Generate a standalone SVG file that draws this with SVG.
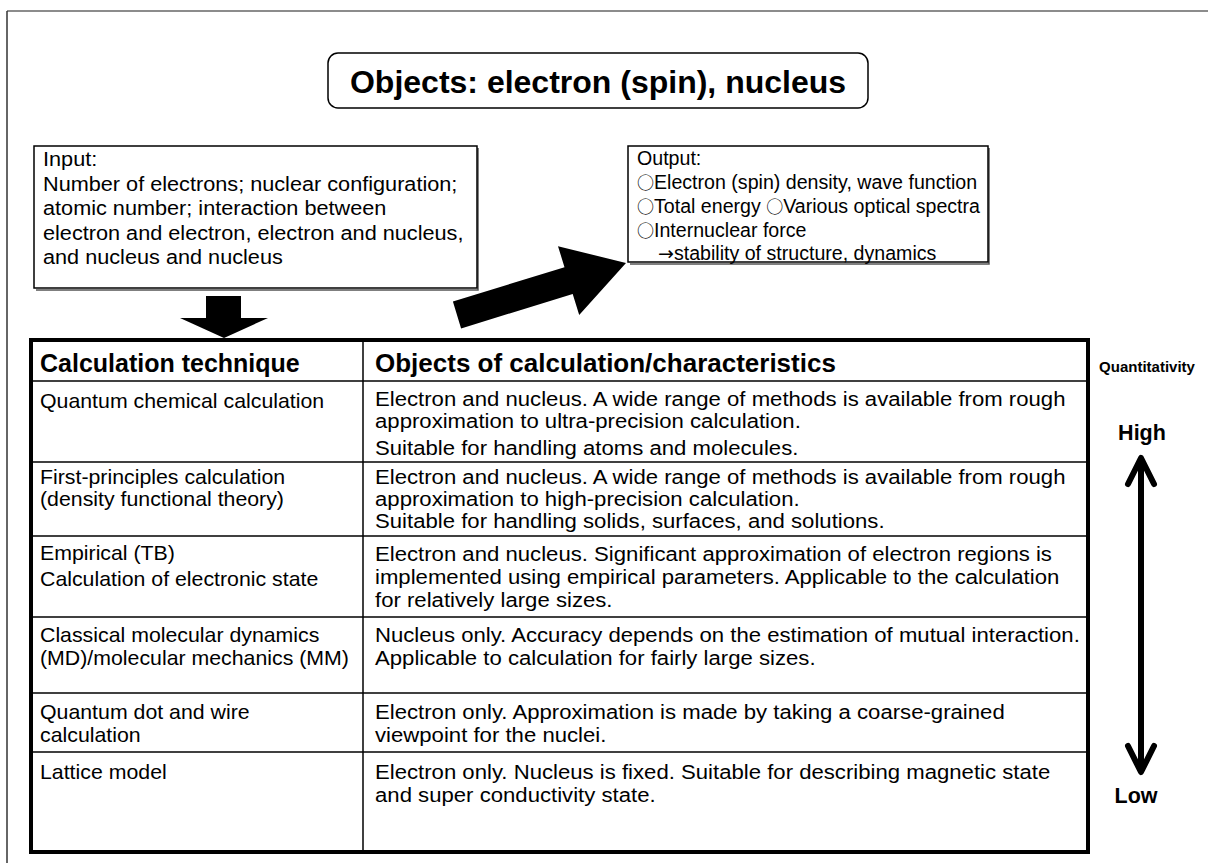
<svg xmlns="http://www.w3.org/2000/svg" width="1208" height="863" viewBox="0 0 1208 863">
  <style>
    text { font-family: "Liberation Sans", Arial, "DejaVu Sans", sans-serif; fill: #000; }
    .title { font-size: 32px; font-weight: bold; text-anchor: middle; }
    .in { font-size: 21px; }
    .out { font-size: 19.6px; }
    .c1 { font-size: 19.6px; }
    .c2 { font-size: 19.6px; }
    .head { font-size: 25px; font-weight: bold; }
    .side { font-weight: bold; text-anchor: middle; }
    .dot { font-family: "Noto Sans CJK JP", "DejaVu Sans", sans-serif; font-size: 17px; }
    .sym { font-family: "DejaVu Sans", sans-serif; font-size: 19px; }
    .box { fill: #fff; stroke: #000; stroke-width: 1.5; }
    .shadow { fill: none; stroke: #555; stroke-width: 1.5; }
    .grid { stroke: #000; stroke-width: 1.5; fill: none; }
    .frame { stroke: #000; stroke-width: 4; fill: none; }
    .chev { fill: none; stroke: #000; stroke-width: 6; stroke-linecap: round; stroke-linejoin: round; }
  </style>

  <rect width="1208" height="863" fill="#fff"/>

  <!-- page frame -->
  <line x1="7" y1="11" x2="1208" y2="11" stroke="#8c8c8c" stroke-width="2"/>
  <line x1="7" y1="11" x2="7" y2="863" stroke="#333" stroke-width="1.5"/>

  <!-- title -->
  <g id="title">
    <rect x="328" y="53" width="540" height="55" rx="10" class="box"/>
    <text x="598" y="93" class="title">Objects: electron (spin), nucleus</text>
  </g>

  <!-- input -->
  <g id="input">
    <path d="M478,148 V290 H36" class="shadow"/>
    <rect x="34" y="146" width="443" height="142" class="box"/>
    <text class="in" transform="translate(43 0) scale(1.033 1)">
      <tspan x="0" y="166">Input:</tspan>
      <tspan x="0" y="191">Number of electrons; nuclear configuration;</tspan>
      <tspan x="0" y="215">atomic number; interaction between</tspan>
      <tspan x="0" y="240">electron and electron, electron and nucleus,</tspan>
      <tspan x="0" y="264">and nucleus and nucleus</tspan>
    </text>
  </g>

  <!-- output -->
  <g id="output">
    <path d="M989,148 V264 H630" class="shadow"/>
    <rect x="628" y="146" width="360" height="116" class="box"/>
    <text class="out">
      <tspan x="637" y="165">Output:</tspan>
      <tspan x="637" y="189"><tspan class="dot">○</tspan>Electron (spin) density, wave function</tspan>
      <tspan x="637" y="213"><tspan class="dot">○</tspan>Total energy <tspan class="dot">○</tspan>Various optical spectra</tspan>
      <tspan x="637" y="237"><tspan class="dot">○</tspan>Internuclear force</tspan>
      <tspan x="658" y="260"><tspan class="sym">→</tspan>stability of structure, dynamics</tspan>
    </text>
  </g>

  <!-- flow arrows -->
  <g id="connectors">
    <polygon points="206,296 241,296 241,318 268,318 224,338 180,318 206,318" fill="#000"/>
    <polygon points="452.9,301.6 564.5,267.2 558,246.2 626,263 579.2,315 572.7,294 461.1,328.4" fill="#000"/>
    <line x1="1141" y1="460" x2="1141" y2="770" stroke="#000" stroke-width="6"/>
    <path d="M1128,484 L1141,458 L1154,484" class="chev"/>
    <path d="M1128,746 L1141,772 L1154,746" class="chev"/>
  </g>

  <!-- table -->
  <g id="table">
    <rect x="31" y="340" width="1057" height="512" fill="#fff" class="frame"/>
    <line x1="363" y1="340" x2="363" y2="852" class="grid"/>
    <line x1="31" y1="381" x2="1088" y2="381" class="grid"/>
    <line x1="31" y1="462" x2="1088" y2="462" class="grid"/>
    <line x1="31" y1="536" x2="1088" y2="536" class="grid"/>
    <line x1="31" y1="617" x2="1088" y2="617" class="grid"/>
    <line x1="31" y1="693" x2="1088" y2="693" class="grid"/>
    <line x1="31" y1="752" x2="1088" y2="752" class="grid"/>

    <g id="header">
      <text x="40" y="372" class="head">Calculation technique</text>
      <text class="head" transform="translate(375 0) scale(1.04 1)" x="0" y="372">Objects of calculation/characteristics</text>
    </g>

    <g id="row-quantum-chemical">
      <text x="0" y="408" class="c1" transform="translate(40 0) scale(1.087 1)">Quantum chemical calculation</text>
      <text class="c2" transform="translate(375 0) scale(1.13 1)">
        <tspan x="0" y="406">Electron and nucleus. A wide range of methods is available from rough</tspan>
        <tspan x="0" y="428">approximation to ultra-precision calculation.</tspan>
        <tspan x="0" y="455">Suitable for handling atoms and molecules.</tspan>
      </text>
    </g>

    <g id="row-first-principles">
      <text class="c1" transform="translate(40 0) scale(1.087 1)">
        <tspan x="0" y="484">First-principles calculation</tspan>
        <tspan x="0" y="506">(density functional theory)</tspan>
      </text>
      <text class="c2" transform="translate(375 0) scale(1.13 1)">
        <tspan x="0" y="484">Electron and nucleus. A wide range of methods is available from rough</tspan>
        <tspan x="0" y="506">approximation to high-precision calculation.</tspan>
        <tspan x="0" y="528">Suitable for handling solids, surfaces, and solutions.</tspan>
      </text>
    </g>

    <g id="row-empirical">
      <text class="c1" transform="translate(40 0) scale(1.087 1)">
        <tspan x="0" y="560">Empirical (TB)</tspan>
        <tspan x="0" y="586">Calculation of electronic state</tspan>
      </text>
      <text class="c2" transform="translate(375 0) scale(1.13 1)">
        <tspan x="0" y="561">Electron and nucleus. Significant approximation of electron regions is</tspan>
        <tspan x="0" y="584">implemented using empirical parameters. Applicable to the calculation</tspan>
        <tspan x="0" y="607">for relatively large sizes.</tspan>
      </text>
    </g>

    <g id="row-classical-md">
      <text class="c1" transform="translate(40 0) scale(1.087 1)">
        <tspan x="0" y="642">Classical molecular dynamics</tspan>
        <tspan x="0" y="665">(MD)/molecular mechanics (MM)</tspan>
      </text>
      <text class="c2" transform="translate(375 0) scale(1.13 1)">
        <tspan x="0" y="642">Nucleus only. Accuracy depends on the estimation of mutual interaction.</tspan>
        <tspan x="0" y="665">Applicable to calculation for fairly large sizes.</tspan>
      </text>
    </g>

    <g id="row-quantum-dot">
      <text class="c1" transform="translate(40 0) scale(1.087 1)">
        <tspan x="0" y="719">Quantum dot and wire</tspan>
        <tspan x="0" y="742">calculation</tspan>
      </text>
      <text class="c2" transform="translate(375 0) scale(1.13 1)">
        <tspan x="0" y="719">Electron only. Approximation is made by taking a coarse-grained</tspan>
        <tspan x="0" y="742">viewpoint for the nuclei.</tspan>
      </text>
    </g>

    <g id="row-lattice">
      <text x="0" y="779" class="c1" transform="translate(40 0) scale(1.087 1)">Lattice model</text>
      <text class="c2" transform="translate(375 0) scale(1.13 1)">
        <tspan x="0" y="779">Electron only. Nucleus is fixed. Suitable for describing magnetic state</tspan>
        <tspan x="0" y="802">and super conductivity state.</tspan>
      </text>
    </g>
  </g>

  <!-- quantitativity scale -->
  <g id="scale">
    <text x="1147" y="372" class="side" font-size="15">Quantitativity</text>
    <text x="1142" y="440" class="side" font-size="21.5">High</text>
    <text x="1136" y="803" class="side" font-size="21.5">Low</text>
  </g>
</svg>
